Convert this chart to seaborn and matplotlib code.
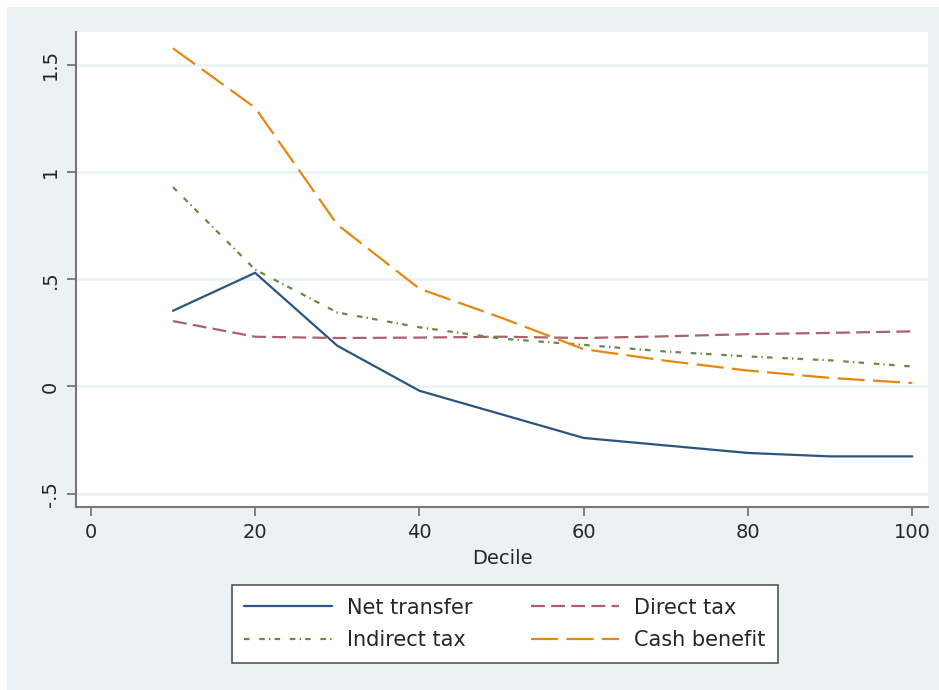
import numpy as np
import pandas as pd
import matplotlib
matplotlib.use("Agg")
import matplotlib.pyplot as plt
from matplotlib.patches import Rectangle
import seaborn as sns

# values
deciles = [10, 20, 30, 40, 50, 60, 70, 80, 90, 100]
net_transfer = [0.353, 0.530, 0.190, -0.020, -0.130, -0.240, -0.275, -0.310, -0.326, -0.326]
direct_tax = [0.305, 0.232, 0.226, 0.228, 0.232, 0.226, 0.234, 0.244, 0.250, 0.257]
indirect_tax = [0.930, 0.545, 0.345, 0.276, 0.223, 0.194, 0.163, 0.140, 0.122, 0.093]
cash_benefit = [1.577, 1.300, 0.755, 0.456, 0.320, 0.174, 0.120, 0.074, 0.040, 0.016]

x_ticks = [0, 20, 40, 60, 80, 100]
y_ticks = [-0.5, 0, 0.5, 1, 1.5]
y_tick_labels = ["-.5", "0", ".5", "1", "1.5"]

df = pd.DataFrame({
    "Decile": deciles,
    "Net transfer": net_transfer,
    "Direct tax": direct_tax,
    "Indirect tax": indirect_tax,
    "Cash benefit": cash_benefit,
})

sns.set_theme(style="white")
plt.rcParams["font.family"] = ["DejaVu Sans"]
plt.rcParams["lines.scale_dashes"] = False

bg = "#eaf2f3"
fig = plt.figure(figsize=(9.39, 6.90), dpi=100, facecolor="white")
fig.patches.append(Rectangle((7 / 939, 0), 1, 1 - 7 / 690, transform=fig.transFigure,
                             facecolor=bg, edgecolor="none", zorder=-10))
ax = fig.add_axes([76 / 939, 1 - 507 / 690, (928 - 76) / 939, (507 - 32) / 690])
ax.set_facecolor("white")

styles = {
    "Net transfer": ("#2a5580", "-"),
    "Direct tax": ("#a9626a", (0, (10, 4.5))),
    "Indirect tax": ("#678b42", (0, (4, 7, 4, 3, 1, 3))),
    "Cash benefit": ("#e8870f", (0, (19.5, 6))),
}
for name, (col, ls) in styles.items():
    sns.lineplot(data=df, x="Decile", y=name, ax=ax, color=col, linestyle=ls,
                 linewidth=1.6, label=name)

ax.set_xlim(-1.8, 101.9)
ax.set_ylim(-0.562, 1.653)
ax.set_xticks(x_ticks)
ax.set_yticks(y_ticks)
ax.set_yticklabels(y_tick_labels, rotation=90, va="center")
ax.grid(axis="y", color=bg, linewidth=1.8)
ax.grid(axis="x", visible=False)
for s in ["top", "right"]:
    ax.spines[s].set_visible(False)
for s in ["left", "bottom"]:
    ax.spines[s].set_color("#777777")
    ax.spines[s].set_linewidth(1.5)
ax.tick_params(axis="both", which="major", length=6.5, width=1.3, color="#777777",
               labelsize=14, pad=5, direction="out", left=True, bottom=True)
ax.set_xlabel("Decile", fontsize=14, labelpad=5)
ax.set_ylabel("")

# Stata fills the legend row by row; matplotlib fills column by column
handles, labels = ax.get_legend_handles_labels()
ax.get_legend().remove()
order = [0, 2, 1, 3]
leg = fig.legend([handles[i] for i in order], [labels[i] for i in order],
                 loc="center", ncol=2,
                 bbox_to_anchor=(505 / 939, 1 - 624 / 690), fontsize=15,
                 handlelength=4.2, handletextpad=0.75, columnspacing=2.8,
                 labelspacing=0.6, frameon=True, fancybox=False,
                 borderpad=0.6, framealpha=1)
leg.get_frame().set_edgecolor("#555555")
leg.get_frame().set_linewidth(1.2)
leg.get_frame().set_facecolor("white")

fig.savefig("out.png", dpi=100, facecolor=fig.get_facecolor())
